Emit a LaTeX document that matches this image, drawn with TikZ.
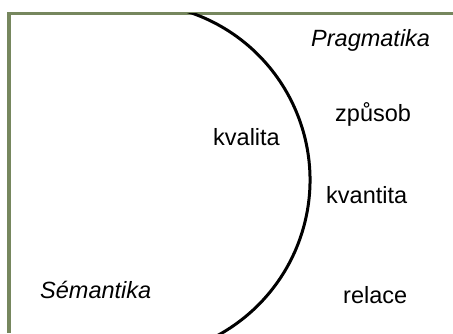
\documentclass[tikz,border=0pt]{standalone}
\usepackage{fontspec}
\setmainfont{Liberation Sans}
\begin{document}
\begin{tikzpicture}[x=1pt,y=-1pt,
  frameline/.style={draw=framegreen,line width=3.5pt},
  boundary/.style={draw=black,line width=3pt},
  term/.style={anchor=base west,inner sep=0pt,font=\fontsize{23.5}{28}\selectfont},
  field/.style={term,font=\fontsize{23.5}{28}\selectfont\itshape}]
\definecolor{framegreen}{RGB}{118,135,94}
\useasboundingbox (0,0) rectangle (453,333);
% corner frame: top and left edges
\coordinate (topright) at (453,13.3);
\coordinate (corner) at (9.2,13.3);
\coordinate (bottomleft) at (9.2,333);
\draw[frameline] (topright) -- (corner) -- (bottomleft);
% boundary between the two fields: right-hand arc of a circle
\coordinate (centre) at (133,180);
\begin{scope}
  \clip (9.2,13.3) rectangle (453,340);
  \draw[boundary] ([shift={(-72:177)}]centre) arc[start angle=-72, end angle=64, radius=177];
\end{scope}
% labels
\node[field] (prag) at (311,46) {Pragmatika};
\node[field] (sem) at (40,298) {Sémantika};
\node[term] (kval) at (213,145) {kvalita};
\node[term] (zpus) at (335,121) {způsob};
\node[term] (kvant) at (326,203) {kvantita};
\node[term] (rel) at (343,303) {relace};
\end{tikzpicture}
\end{document}
